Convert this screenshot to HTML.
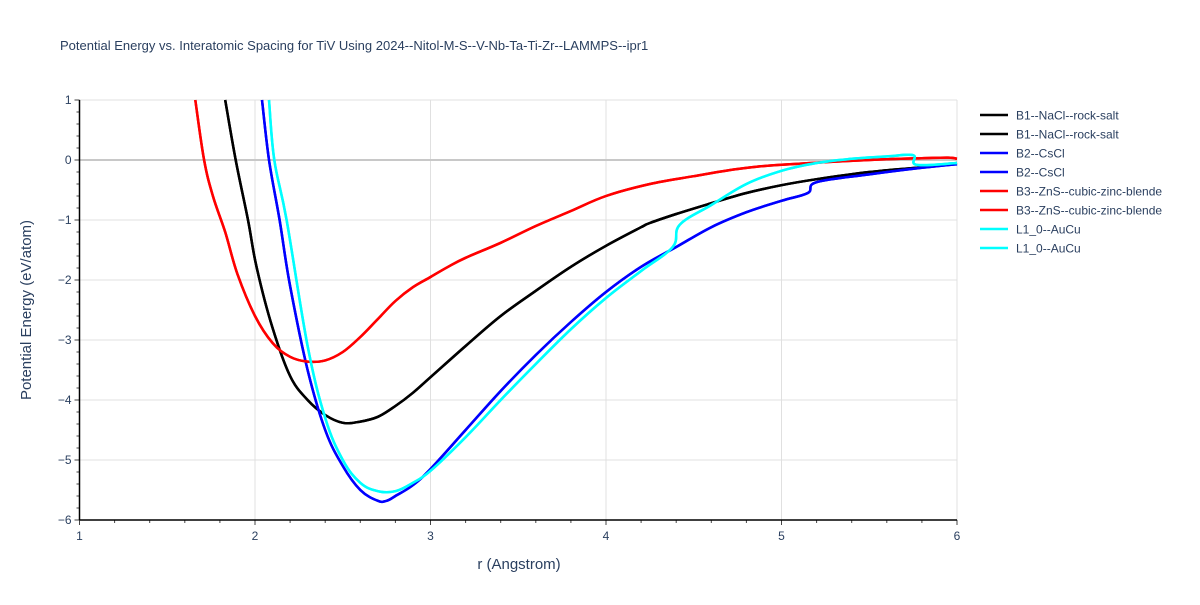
<!DOCTYPE html>
<html><head><meta charset="utf-8"><style>
body{margin:0;background:#fff;font-family:"Liberation Sans",Arial,sans-serif}
svg text{font-family:"Liberation Sans",Arial,sans-serif;fill:#2a3f5f}
</style></head><body>
<svg id="chart" width="1200" height="600">
<text x="60" y="50" font-size="13">Potential Energy vs. Interatomic Spacing for TiV Using 2024--Nitol-M-S--V-Nb-Ta-Ti-Zr--LAMMPS--ipr1</text>
<g id="grid"></g><g id="series"></g><g id="axes"></g><g id="legend"></g>
<text x="519" y="569" font-size="15" text-anchor="middle">r (Angstrom)</text>
<text transform="translate(31,310) rotate(-90)" font-size="15" text-anchor="middle">Potential Energy (eV/atom)</text>
</svg>
<script>
const xTicks=[1,2,3,4,5,6];
const yTicks=[1,0,-1,-2,-3,-4,-5,-6];
const names=["B1--NaCl--rock-salt","B1--NaCl--rock-salt","B2--CsCl","B2--CsCl","B3--ZnS--cubic-zinc-blende","B3--ZnS--cubic-zinc-blende","L1_0--AuCu","L1_0--AuCu"];
const colors=["#000","#000","#0000ff","#0000ff","#ff0000","#ff0000","#00ffff","#00ffff"];
const b1R=[1.83,1.89,1.96,2.01,2.1,2.2,2.3,2.4,2.5,2.6,2.7,2.8,2.9,3.0,3.2,3.4,3.6,3.8,4.0,4.2,4.25,4.4,4.6,4.8,5.0,5.2,5.5,5.8,6.0];
const b1E=[1,0,-1,-1.8,-2.8,-3.6,-4.0,-4.25,-4.38,-4.36,-4.28,-4.1,-3.88,-3.62,-3.1,-2.6,-2.18,-1.78,-1.43,-1.12,-1.05,-0.9,-0.72,-0.55,-0.42,-0.32,-0.2,-0.12,-0.05];
const b2R=[2.04,2.08,2.14,2.2,2.3,2.4,2.5,2.6,2.7,2.75,2.8,2.9,3.0,3.2,3.4,3.6,3.8,4.0,4.2,4.4,4.6,4.8,5.0,5.15,5.2,5.5,5.8,6.0];
const b2E=[1,0,-1,-2.1,-3.5,-4.5,-5.1,-5.5,-5.68,-5.68,-5.6,-5.42,-5.15,-4.5,-3.85,-3.25,-2.7,-2.2,-1.78,-1.45,-1.12,-0.87,-0.68,-0.55,-0.37,-0.24,-0.13,-0.07];
const b3R=[1.66,1.71,1.76,1.83,1.9,2.0,2.1,2.2,2.3,2.4,2.5,2.6,2.7,2.8,2.9,3.0,3.1,3.2,3.4,3.6,3.8,4.0,4.25,4.5,4.75,5.0,5.5,5.8,5.95,6.0];
const b3E=[1,0,-0.6,-1.2,-1.9,-2.6,-3.05,-3.28,-3.36,-3.34,-3.2,-2.95,-2.65,-2.35,-2.12,-1.95,-1.78,-1.63,-1.38,-1.1,-0.85,-0.6,-0.4,-0.27,-0.15,-0.08,0,0.03,0.04,0.02];
const l10R=[2.08,2.11,2.18,2.3,2.4,2.5,2.6,2.7,2.8,2.9,3.0,3.2,3.4,3.6,3.8,4.0,4.2,4.38,4.42,4.6,4.8,5.0,5.2,5.4,5.6,5.75,5.77,6.0];
const l10E=[1,0,-1,-3.1,-4.3,-5.0,-5.38,-5.52,-5.52,-5.38,-5.18,-4.62,-4.0,-3.4,-2.82,-2.3,-1.85,-1.45,-1.08,-0.75,-0.4,-0.18,-0.05,0.02,0.06,0.08,-0.08,-0.05];
const seriesR=[b1R,b1R,b2R,b2R,b3R,b3R,l10R,l10R];
const seriesE=[b1E,b1E,b2E,b2E,b3E,b3E,l10E,l10E];
const X0=79.5,X1=957,Y0=100,Y1=520;
const xs=r=>X0+(r-1)/5*(X1-X0);
const ys=e=>Y0+(1-e)/7*(Y1-Y0);
const NS="http://www.w3.org/2000/svg";
function mk(tag,attrs,parent){const el=document.createElementNS(NS,tag);for(const k in attrs)el.setAttribute(k,attrs[k]);parent.appendChild(el);return el;}
function smooth(pts){
 let d='M'+pts[0][0].toFixed(1)+','+pts[0][1].toFixed(1);
 for(let i=0;i<pts.length-1;i++){
  const p0=pts[Math.max(0,i-1)],p1=pts[i],p2=pts[i+1],p3=pts[Math.min(pts.length-1,i+2)];
  const t=0.18;
  const c1=[p1[0]+(p2[0]-p0[0])*t,p1[1]+(p2[1]-p0[1])*t];
  const c2=[p2[0]-(p3[0]-p1[0])*t,p2[1]-(p3[1]-p1[1])*t];
  d+='C'+c1[0].toFixed(1)+','+c1[1].toFixed(1)+' '+c2[0].toFixed(1)+','+c2[1].toFixed(1)+' '+p2[0].toFixed(1)+','+p2[1].toFixed(1);
 }
 return d;
}
const grid=document.getElementById('grid'),axes=document.getElementById('axes'),ser=document.getElementById('series'),leg=document.getElementById('legend');
xTicks.forEach(t=>{
 if(t>1){const g=mk('line',{x1:xs(t),x2:xs(t),y1:Y0,y2:Y1,stroke:'#e0e0e0','stroke-width':1},grid);
 
 }
 const tx=mk('text',{x:xs(t),y:Y1+20,'font-size':12,'text-anchor':'middle'},axes);tx.textContent=t;
 
 
 mk('line',{x1:xs(t),x2:xs(t),y1:Y1,y2:Y1+5,stroke:'#444'},axes);
});
for(let r=1.2;r<6;r+=0.2){mk('line',{x1:xs(r),x2:xs(r),y1:Y1,y2:Y1+3,stroke:'#444'},axes);}
yTicks.forEach(t=>{
 if(t>-6){const g=mk('line',{x1:X0,x2:X1,y1:ys(t),y2:ys(t),stroke:t===0?'#c8c8c8':'#e0e0e0','stroke-width':t===0?2:1},grid);
 
 }
 const tx=mk('text',{x:X0-8,y:ys(t)+4,'font-size':12,'text-anchor':'end'},axes);tx.textContent=t<0?'\u2212'+(-t):t;
 
 
 mk('line',{x1:X0-5,x2:X0,y1:ys(t),y2:ys(t),stroke:'#444'},axes);
});
for(let e=-5.8;e<1;e+=0.2){mk('line',{x1:X0-3,x2:X0,y1:ys(e),y2:ys(e),stroke:'#444'},axes);}
const xa=mk('line',{x1:X0,x2:X1,y1:Y1,y2:Y1,stroke:'#000','stroke-width':1.5},axes);


const ya=mk('line',{x1:X0,x2:X0,y1:Y0,y2:Y1,stroke:'#000','stroke-width':1.5},axes);


seriesR.forEach((R,i)=>{
 const pts=R.map((r,j)=>[xs(r),ys(seriesE[i][j])]);
 const p=mk('path',{d:smooth(pts),fill:'none',stroke:colors[i],'stroke-width':2.5,'stroke-linejoin':'round'},ser);
 
 
 const y=115+i*19;
 const g=mk('g',{},leg);
 
 
 mk('line',{x1:980,x2:1008,y1:y,y2:y,stroke:colors[i],'stroke-width':2.5},g);
 const t=mk('text',{x:1016,y:y+4.5,'font-size':12},g);t.textContent=names[i];
});
</script>
</body></html>
